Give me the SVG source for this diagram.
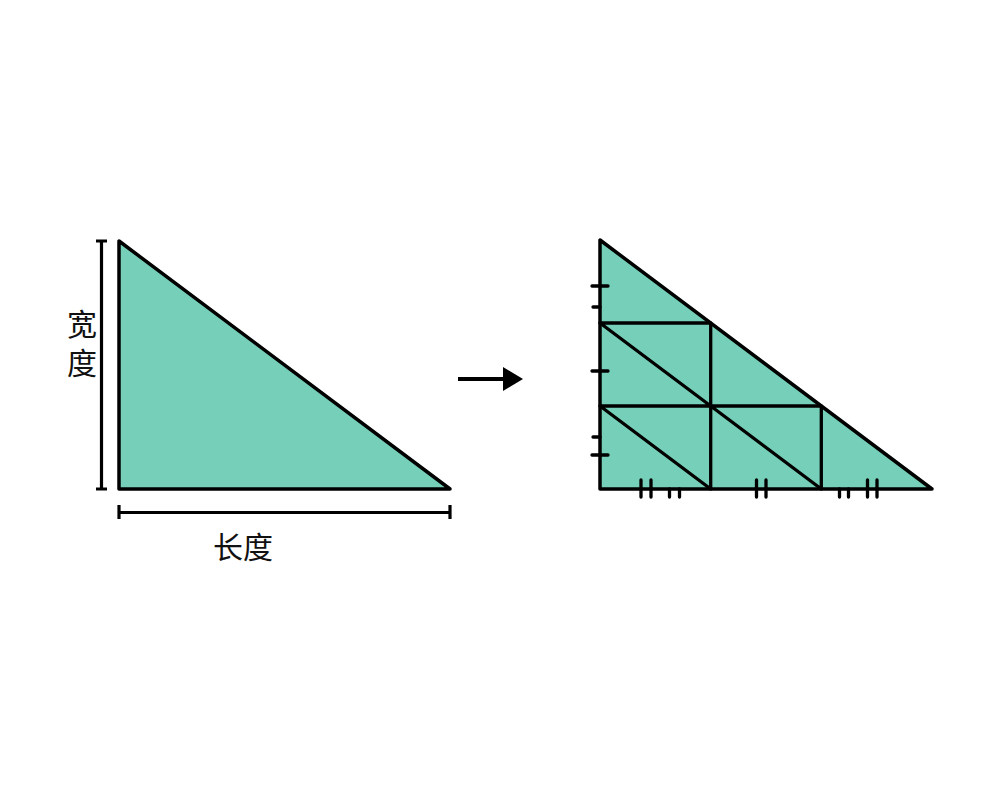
<svg xmlns="http://www.w3.org/2000/svg" width="982" height="800" viewBox="0 0 982 800">
<style>
.tri{fill:#75cfb9;stroke:#000;stroke-width:3.5;stroke-linejoin:round}
.ln{stroke:#000;stroke-width:3.3;fill:none;stroke-linecap:round}
.dim{stroke:#000;stroke-width:3.2;fill:none}
.lbl{font-family:"Noto Sans CJK SC","Noto Sans",sans-serif;font-size:30px;fill:#111}
</style>
<defs>
<marker id="ah" markerWidth="6" markerHeight="6" refX="0" refY="3" orient="auto" markerUnits="strokeWidth">
<path d="M0,0 L5,3 L0,6 Z" fill="#000"/>
</marker>
</defs>
<rect width="982" height="800" fill="#fff"/>
<g id="left-triangle">
<polygon class="tri" points="119,241 119,489 450,489"/>
</g>
<g id="width-dimension">
<path class="dim" d="M101.5,241 V489 M96,241 H107 M96,489 H107"/>
<text class="lbl" x="82" y="348" text-anchor="middle" writing-mode="tb" style="writing-mode:vertical-rl" letter-spacing="9">宽度</text>
</g>
<g id="length-dimension">
<path class="dim" d="M119,512.5 H450 M119,505 V519 M450,505 V519"/>
<text class="lbl" x="243" y="558" text-anchor="middle">长度</text>
</g>
<g id="connectors">
<line x1="458" y1="379" x2="503" y2="379" stroke="#000" stroke-width="4" marker-end="url(#ah)"/>
</g>
<g id="right-triangle">
<polygon class="tri" points="600,240 600,489 932,489"/>
<path class="ln" d="M600,323 H710.7 M600,406 H821.3 M710.7,323 V489 M821.3,406 V489 M600,323 L710.7,406 M600,406 L710.7,489 M710.7,406 L821.3,489"/>
<path class="ln" d="M592,286 H608 M593,307 H600 M592,371 H608 M593,437 H600 M592,455 H608"/>
<path class="ln" d="M641,480 V497 M651,480 V497 M669.5,489 V497 M679.5,489 V497 M756.5,480 V497 M766,480 V497 M839.5,489 V497 M848.5,489 V497 M867.5,480 V497 M877,480 V497"/>
</g>
</svg>
